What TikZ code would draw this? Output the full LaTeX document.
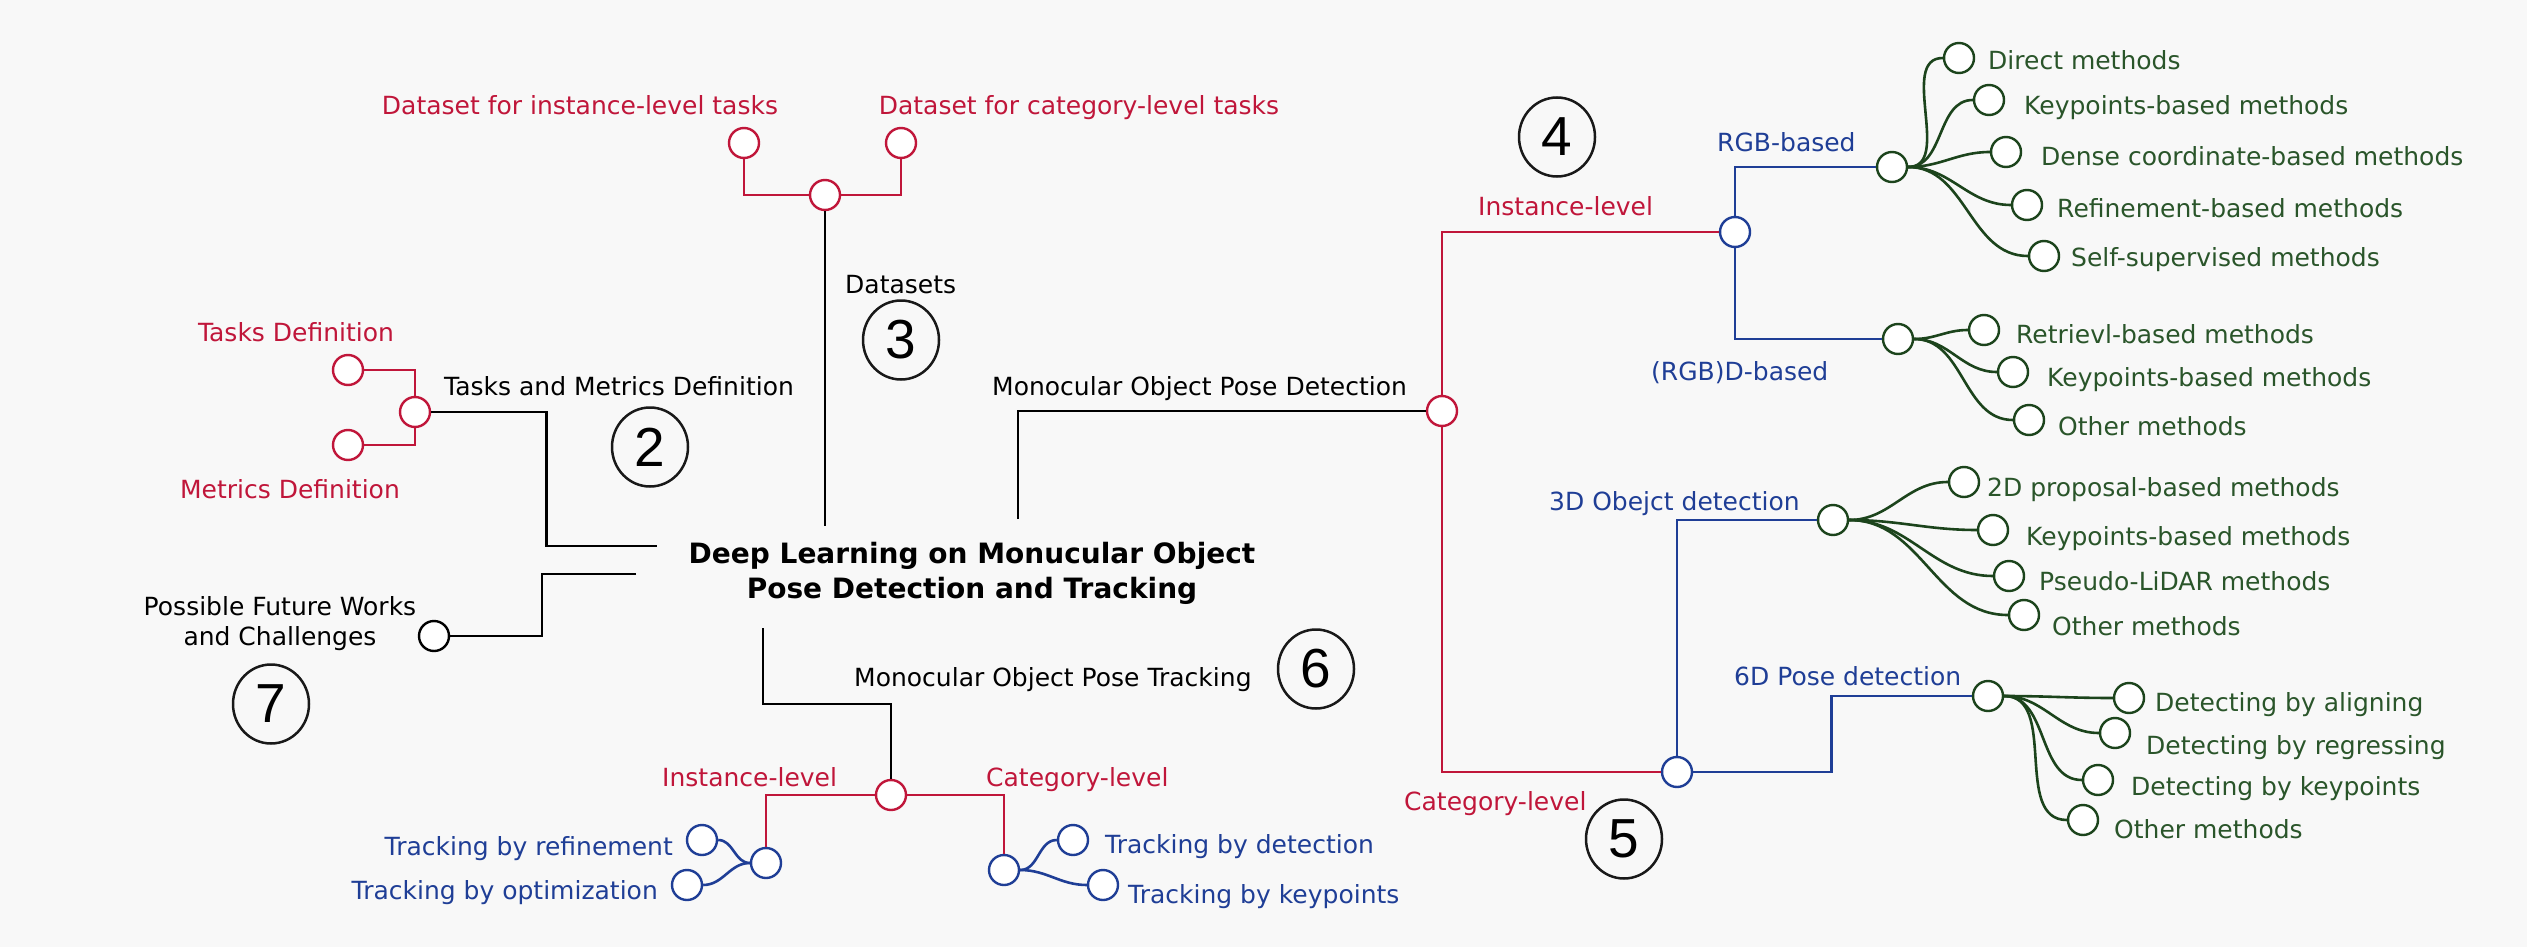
\documentclass[tikz,border=0pt]{standalone}
\usepackage{fontspec}
\setmainfont{DejaVu Sans}
\newfontfamily\digitfont{Liberation Sans}
\usetikzlibrary{shapes.geometric}
\definecolor{cred}{HTML}{C0163A}
\definecolor{cblue}{HTML}{1F3E96}
\definecolor{cgreen}{HTML}{2A552A}
\definecolor{cgline}{HTML}{1C441C}
\definecolor{bgc}{HTML}{F8F8F8}
\newcommand\fs{\fontsize{25}{30}\selectfont}
\newcommand\titlefs{\fontsize{28}{35}\selectfont\bfseries}
\newcommand\numfs{\digitfont\fontsize{55}{58}\selectfont}
\begin{document}
\begin{tikzpicture}[x=1pt,y=-1pt,
  lw/.style={line width=2.6pt},
  hub/.style={circle,draw,fill=white,minimum size=30pt,inner sep=0pt,line width=2.4pt},
  rhub/.style={hub,draw=cred},
  bhub/.style={hub,draw=cblue},
  ghub/.style={hub,draw=cgline},
  khub/.style={hub,draw=black},
  rl/.style={lw,draw=cred},
  bl/.style={lw,draw=cblue},
  gl/.style={lw,draw=cgline},
  kl/.style={lw,draw=black},
  txt/.style={inner sep=0pt,font=\fs},
  rt/.style={txt,text=cred},
  bt/.style={txt,text=cblue},
  gt/.style={txt,text=cgreen},
  kt/.style={txt,text=black},
  num/.style={ellipse,draw=black!90,line width=2.5pt,minimum width=76pt,minimum height=79pt,inner sep=0pt,font=\numfs},
]
\fill[bgc] (0,0) rectangle (2527,947);
\useasboundingbox (0,0) rectangle (2527,947);

% ---------- title ----------
\node[kt,font=\titlefs,align=center,anchor=north] (title) at (972,542) {Deep Learning on Monucular Object\\Pose Detection and Tracking};

% ---------- number circles ----------
\node[num] (n2) at (650,447) {2};
\node[num] (n3) at (901,340) {3};
\node[num] (n4) at (1557,137) {4};
\node[num] (n5) at (1624,839) {5};
\node[num] (n6) at (1316,669) {6};
\node[num] (n7) at (271,704) {7};

% ---------- Datasets ----------
\node[rhub] (dh) at (825,195) {};
\node[rhub] (d1) at (744,143) {};
\node[rhub] (d2) at (901,143) {};
\node[rt,anchor=base] (d1t) at (580,115) {Dataset for instance-level tasks};
\node[rt,anchor=base] (d2t) at (1079,115) {Dataset for category-level tasks};
\node[kt,anchor=base west] (dst) at (845,293) {Datasets};
\coordinate (dsEnd) at (825,526);
\draw[rl] (d1.south) |- (dh.west);
\draw[rl] (dh.east) -| (d2.south);
\draw[kl] (dh.south) -- (dsEnd);

% ---------- Tasks and Metrics ----------
\node[rhub] (th) at (415,412) {};
\node[rhub] (t1) at (348,370) {};
\node[rhub] (t2) at (348,445) {};
\node[rt,anchor=base] (t1t) at (296,341) {Tasks Definition};
\node[rt,anchor=base] (t2t) at (290,498) {Metrics Definition};
\node[kt,anchor=base west] (tmt) at (444,395) {Tasks and Metrics Definition};
\coordinate (tmEnd) at (657,546);
\draw[rl] (t1.east) -| (th.north);
\draw[rl] (t2.east) -| (th.south);
\draw[kl] (th.east) -- ++(115,0) |- (tmEnd);

% ---------- Future works ----------
\node[khub] (fw) at (434,636) {};
\node[kt,align=center,anchor=north] (fwt) at (280,596) {\fontsize{25}{31}\selectfont Possible Future Works\\and Challenges};
\coordinate (fwEnd) at (636,574);
\draw[kl] (fwEnd) -- ++(-94,0) |- (fw.east);

% ---------- Tracking ----------
\coordinate (trStart) at (763,628);
\node[rhub] (trh) at (891,795) {};
\node[kt,anchor=base west] (trt) at (854,686) {Monocular Object Pose Tracking};
\draw[kl] (trStart) -- ++(0,76) -| (trh.north);
\node[bhub] (tl) at (766,863) {};
\node[bhub] (tr) at (1004,870) {};
\node[rt,anchor=base west] (tlt) at (662,786) {Instance-level};
\node[rt,anchor=base west] (trt2) at (986,786) {Category-level};
\draw[rl] (trh.west) -| (tl.north);
\draw[rl] (trh.east) -| (tr.north);
\node[bhub] (lr1) at (702,840) {};
\node[bhub] (lr2) at (687,885) {};
\node[bhub] (rr1) at (1073,840) {};
\node[bhub] (rr2) at (1103,885) {};
\node[bt,anchor=base east] (lr1t) at (673,855) {Tracking by refinement};
\node[bt,anchor=base east] (lr2t) at (658,899) {Tracking by optimization};
\node[bt,anchor=base west] (rr1t) at (1105,853) {Tracking by detection};
\node[bt,anchor=base west] (rr2t) at (1128,903) {Tracking by keypoints};
\draw[bl] (tl.west) to[out=180,in=0] (lr1.east);
\draw[bl] (tl.west) to[out=180,in=0] (lr2.east);
\draw[bl] (tr.east) to[out=0,in=180] (rr1.west);
\draw[bl] (tr.east) to[out=0,in=180] (rr2.west);

% ---------- Detection ----------
\coordinate (detStart) at (1018,519);
\node[rhub] (dth) at (1442,411) {};
\node[kt,anchor=base west] (dtt) at (992,395) {Monocular Object Pose Detection};
\draw[kl] (detStart) |- (dth.west);
\node[bhub] (ih) at (1735,232) {};
\node[bhub] (ch) at (1677,772) {};
\node[rt,anchor=base west] (iht) at (1478,215) {Instance-level};
\node[rt,anchor=base west] (cht) at (1404,810) {Category-level};
\draw[rl] (dth.north) |- (ih.west);
\draw[rl] (dth.south) |- (ch.west);

% instance-level
\node[ghub] (rgb) at (1892,167) {};
\node[ghub] (rgbd) at (1898,339) {};
\node[bt,anchor=base west] (rgbt) at (1717,151) {RGB-based};
\node[bt,anchor=base west] (rgbdt) at (1651,380) {(RGB)D-based};
\draw[bl] (ih.north) |- (rgb.west);
\draw[bl] (ih.south) |- (rgbd.west);

\node[ghub] (a1) at (1959,58) {};
\node[ghub] (a2) at (1989,100) {};
\node[ghub] (a3) at (2006,152) {};
\node[ghub] (a4) at (2027,205) {};
\node[ghub] (a5) at (2044,256) {};
\node[gt,anchor=base west] (a1t) at (1988,70) {Direct methods};
\node[gt,anchor=base west] (a2t) at (2024,115) {Keypoints-based methods};
\node[gt,anchor=base west] (a3t) at (2041,165) {Dense coordinate-based methods};
\node[gt,anchor=base west] (a4t) at (2057,217) {Refinement-based methods};
\node[gt,anchor=base west] (a5t) at (2071,266) {Self-supervised methods};
\foreach \l in {a1,a2,a3,a4,a5} \draw[gl] (rgb.east) to[out=0,in=180] (\l.west);

\node[ghub] (b1) at (1984,330) {};
\node[ghub] (b2) at (2013,372) {};
\node[ghub] (b3) at (2029,420) {};
\node[gt,anchor=base west] (b1t) at (2016,343) {Retrievl-based methods};
\node[gt,anchor=base west] (b2t) at (2047,386) {Keypoints-based methods};
\node[gt,anchor=base west] (b3t) at (2058,435) {Other methods};
\foreach \l in {b1,b2,b3} \draw[gl] (rgbd.east) to[out=0,in=180] (\l.west);

% category-level
\node[ghub] (o3) at (1833,520) {};
\node[ghub] (p6) at (1988,696) {};
\node[bt,anchor=base west] (o3t) at (1549,510) {3D Obejct detection};
\node[bt,anchor=base west] (p6t) at (1734,685) {6D Pose detection};
\draw[bl] (ch.north) |- (o3.west);
\draw[bl] (ch.east) -- ++(138,0) |- (p6.west);

\node[ghub] (c1) at (1964,482) {};
\node[ghub] (c2) at (1993,530) {};
\node[ghub] (c3) at (2009,576) {};
\node[ghub] (c4) at (2024,615) {};
\node[gt,anchor=base west] (c1t) at (1987,496) {2D proposal-based methods};
\node[gt,anchor=base west] (c2t) at (2026,545) {Keypoints-based methods};
\node[gt,anchor=base west] (c3t) at (2039,590) {Pseudo-LiDAR methods};
\node[gt,anchor=base west] (c4t) at (2052,635) {Other methods};
\foreach \l in {c1,c2,c3,c4} \draw[gl] (o3.east) to[out=0,in=180] (\l.west);

\node[ghub] (e1) at (2129,698) {};
\node[ghub] (e2) at (2115,733) {};
\node[ghub] (e3) at (2098,780) {};
\node[ghub] (e4) at (2083,820) {};
\node[gt,anchor=base west] (e1t) at (2155,711) {Detecting by aligning};
\node[gt,anchor=base west] (e2t) at (2146,754) {Detecting by regressing};
\node[gt,anchor=base west] (e3t) at (2131,795) {Detecting by keypoints};
\node[gt,anchor=base west] (e4t) at (2114,838) {Other methods};
\foreach \l in {e1,e2,e3,e4} \draw[gl] (p6.east) to[out=0,in=180] (\l.west);
\end{tikzpicture}
\end{document}
